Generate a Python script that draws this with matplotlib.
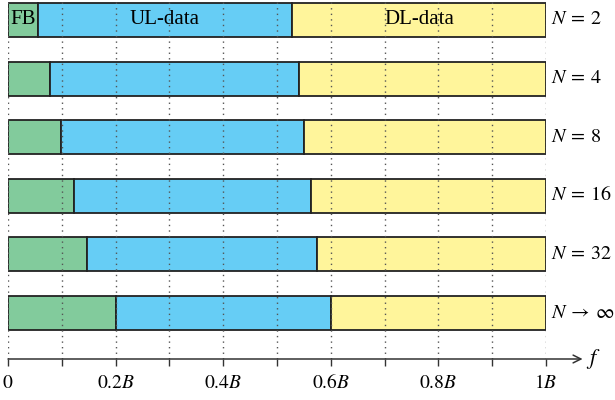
import numpy as np
import matplotlib
matplotlib.use("Agg")
import matplotlib.pyplot as plt
import matplotlib.transforms as mtransforms

plt.rcParams['font.family'] = ['Liberation Serif', 'DejaVu Serif']
plt.rcParams['mathtext.fontset'] = 'stix'

# band split per number of users: feedback, uplink data, downlink data
row_labels = [r"$N\:=\:2$", r"$N\:=\:4$", r"$N\:=\:8$", r"$N\:=\:16$", r"$N\:=\:32$",
              r"$N\:\rightarrow\:\infty$"]
fb_end = [0.055, 0.078, 0.098, 0.123, 0.147, 0.200]
ul_end = [0.528, 0.540, 0.551, 0.563, 0.575, 0.600]
band_end = [1.0] * 6

tick_vals = [0, 0.2, 0.4, 0.6, 0.8, 1.0]
tick_labels = ["$0$", "$0.2B$", "$0.4B$", "$0.6B$", "$0.8B$", "$1B$"]

c_fb = "#82cb9c"
c_ul = "#66cdf5"
c_dl = "#fff59b"
edge = "#222222"

fig = plt.figure(figsize=(6.15, 4.0), dpi=100)
ax = fig.add_axes([8 / 615, 41 / 400, 538 / 615, 359 / 400])

rows = np.arange(len(row_labels))
fb = np.array(fb_end)
ul = np.array(ul_end)
dl = np.array(band_end)
h = 0.58
ax.barh(rows, fb, height=h, color=c_fb, edgecolor=edge, linewidth=1.3, zorder=2)
ax.barh(rows, ul - fb, left=fb, height=h, color=c_ul, edgecolor=edge, linewidth=1.3, zorder=2)
ax.barh(rows, dl - ul, left=ul, height=h, color=c_dl, edgecolor=edge, linewidth=1.3, zorder=2)

ax.set_xlim(0, 1)
ax.set_ylim(5 + 46 / 58.6, -20 / 58.6)

# dotted guides every 0.1B, drawn over the bars
for xv in np.arange(0, 1.01, 0.1):
    ax.axvline(xv, color="#555555", linestyle=(0, (1, 3)), linewidth=1.0, zorder=3)

for s in ["top", "right", "left", "bottom"]:
    ax.spines[s].set_visible(False)
ax.set_yticks([])
ax.set_xticks(np.arange(0, 1.01, 0.1), minor=True)
ax.set_xticks(tick_vals)
ax.set_xticklabels([])
ax.tick_params(axis="x", which="both", length=5, width=1.0, color="#333333")

# tick labels on a common baseline
trans = mtransforms.blended_transform_factory(ax.transData, fig.transFigure)
for xv, lab in zip(tick_vals, tick_labels):
    ax.text(xv, 12 / 400, lab, transform=trans, fontsize=14, ha="center", va="baseline")

# frequency axis with arrow
ax.annotate("", xy=(1.068, 0), xytext=(0, 0), xycoords="axes fraction",
            arrowprops=dict(arrowstyle="->", color="#333333", lw=1.1, shrinkA=0, shrinkB=0,
                            mutation_scale=14), annotation_clip=False)
ax.text(1.075, 0.0, "$f$", transform=ax.transAxes, fontsize=16, va="center", ha="left")

for r, lab in zip(rows, row_labels):
    ax.text(1.010, r, lab, fontsize=14.5, va="center", ha="left", clip_on=False)

ax.text(fb[0] / 2, 0, "FB", fontsize=15, va="center", ha="center", zorder=4)
ax.text((fb[0] + ul[0]) / 2, 0, "UL-data", fontsize=15, va="center", ha="center", zorder=4)
ax.text((ul[0] + dl[0]) / 2, 0, "DL-data", fontsize=15, va="center", ha="center", zorder=4)

fig.savefig("out.png", dpi=100)
